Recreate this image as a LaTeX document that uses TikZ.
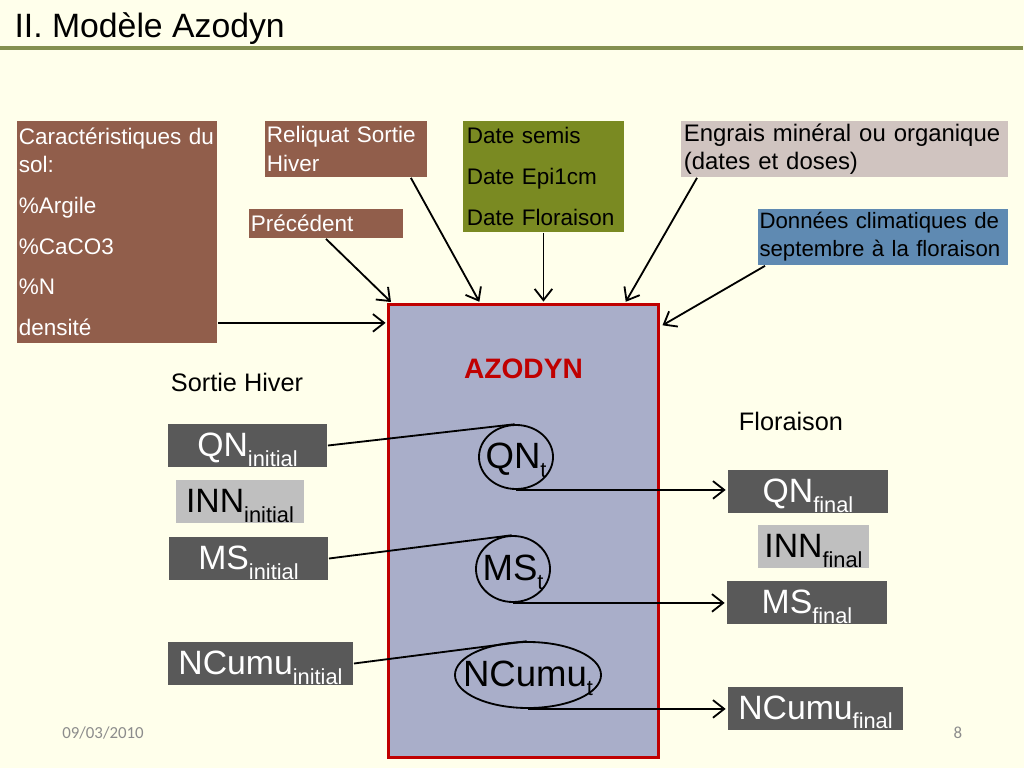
\documentclass[tikz,border=0pt]{standalone}
\usepackage{fontspec}
\setmainfont{Liberation Sans}
\newfontfamily\footfont{Carlito}
\usetikzlibrary{arrows.meta,positioning,shapes.geometric}

\definecolor{bgcream}{HTML}{FFFFEB}
\definecolor{titleline}{HTML}{84904F}
\definecolor{soilbrown}{HTML}{915E4B}
\definecolor{dateolive}{HTML}{7A8A22}
\definecolor{engraispink}{HTML}{D0C4C0}
\definecolor{climablue}{HTML}{5F8AB2}
\definecolor{modelfill}{HTML}{A9AEC9}
\definecolor{modelred}{HTML}{C00000}
\definecolor{vardark}{HTML}{595959}
\definecolor{varlight}{HTML}{BFBFBF}
\definecolor{footgrey}{HTML}{8C8C8C}

\newcommand{\lowsub}[1]{\raisebox{-7pt}{\fontsize{15.5}{16}\selectfont #1}}

\begin{document}
\begin{tikzpicture}[x=0.025cm,y=-0.025cm,>={Straight Barb[length=2.8mm,width=4.4mm]},
                    shorten >=1pt,line width=1.3pt,
                    in box/.style={rectangle,anchor=north west,align=left,inner xsep=0.05cm,
                                   inner ysep=0pt,font=\fontsize{16}{20}\selectfont},
                    var box/.style={rectangle,inner sep=0pt,minimum height=1.075cm,
                                    font=\fontsize{24}{28}\selectfont,text height=0.7cm,text depth=0.15cm},
                    dark var/.style={var box,fill=vardark,text=white},
                    light var/.style={var box,fill=varlight,text=black},
                    state node/.style={ellipse,draw,inner sep=0pt},
                    state text/.style={font=\fontsize{26}{30}\selectfont,text height=0.7cm,text depth=0.15cm,inner sep=0pt},
                    side text/.style={font=\fontsize{18}{22}\selectfont}]

  \fill[bgcream] (0,0) rectangle (1024,768);
  \useasboundingbox (0,0) rectangle (1024,768);

  \node[anchor=base west,font=\fontsize{24}{28}\selectfont] (title) at (9,38) {II. Modèle Azodyn};
  \draw[titleline,line width=2.2pt] (0,48) -- (1024,48);

  % inputs
  \node[in box,fill=soilbrown,text=white,minimum width=5cm,minimum height=5.55cm,text width=4.9cm] (sol) at (16,120)
    {Caractéristiques du\\sol:\\[9pt]\%Argile\\[9pt]\%CaCO3\\[9pt]\%N\\[9pt]densité};
  \node[in box,fill=soilbrown,text=white,minimum width=4.05cm,minimum height=1.4cm,text width=3.95cm] (reliquat) at (264,120)
    {Reliquat Sortie\\Hiver};
  \node[in box,fill=soilbrown,text=white,minimum width=3.85cm,minimum height=0.725cm,text width=3.75cm] (prec) at (248,208)
    {Précédent};
  \node[in box,fill=dateolive,minimum width=3.925cm,minimum height=2.775cm,text width=3.825cm,inner xsep=0.1cm] (dates) at (462,120)
    {Date semis\\[9pt]Date Epi1cm\\[9pt]Date Floraison};
  \node[in box,fill=engraispink,minimum width=8.175cm,minimum height=1.4cm,text width=8.025cm,inner xsep=0.075cm,
        font=\fontsize{17}{20}\selectfont] (engrais) at (680,120)
    {Engrais minéral ou organique\\(dates et doses)};
  \node[in box,fill=climablue,minimum width=6.25cm,minimum height=1.4cm,text width=6.17cm,inner xsep=0.04cm,
        font=\fontsize{15.8}{20}\selectfont] (climat) at (757,208)
    {Données climatiques de\\septembre à la floraison};

  % model
  \node[rectangle,draw=modelred,fill=modelfill,line width=2pt,anchor=north west,
        minimum width=6.75cm,minimum height=11.325cm] (azodyn) at (387,303) {};
  \node[font=\fontsize{20}{24}\selectfont\bfseries,text=modelred] (azlabel) [below=1.25cm of azodyn.north] {AZODYN};

  \coordinate (solout) at ([yshift=0.525cm]sol.south east);
  \draw[->] (solout) -- (solout -| azodyn.west);
  \draw[->] (prec.south) -- ([xshift=0.125cm]azodyn.north west);
  \draw[->] ([xshift=-0.425cm]reliquat.south east) -- ([xshift=2.325cm]azodyn.north west);
  \draw[->] (dates.south) -- (dates.south |- azodyn.north);
  \draw[->] ([xshift=0.425cm]engrais.south west) -- ([xshift=5.95cm]azodyn.north west);
  \draw[->] ([xshift=0.2cm]climat.south west) -- ([yshift=-0.575cm,xshift=1pt]azodyn.north east);

  % state variables
  \node[side text] (sortie) at (237,382) {Sortie Hiver};
  \node[dark var,minimum width=3.975cm] (QNi) at (247.5,445.5) {QN\lowsub{initial}};
  \node[light var,minimum width=3.2cm] (INNi) at (240,501.5) {INN\lowsub{initial}};
  \node[dark var,minimum width=3.975cm] (MSi) at (248.5,558.5) {MS\lowsub{initial}};
  \node[dark var,minimum width=4.625cm] (NCi) at (260.5,663.5) {NCumu\lowsub{initial}};

  \node[side text] (floraison) at (791,421) {Floraison};
  \node[dark var,minimum width=4cm] (QNf) at (808,491.5) {QN\lowsub{final}};
  \node[light var,minimum width=2.775cm] (INNf) at (813.5,546.5) {INN\lowsub{final}};
  \node[dark var,minimum width=4cm] (MSf) at (807,602.5) {MS\lowsub{final}};
  \node[dark var,minimum width=4.375cm] (NCf) at (815.5,708) {NCumu\lowsub{final}};

  \node[state node,minimum width=1.85cm,minimum height=1.6cm,
        label={[state text]center:QN\lowsub{t}}] (QNt) at (516,457) {};
  \node[state node,minimum width=1.85cm,minimum height=1.65cm,
        label={[state text]center:MS\lowsub{t}}] (MSt) at (513,569) {};
  \node[state node,minimum width=3.65cm,minimum height=1.65cm,
        label={[state text]center:NCumu\lowsub{t}}] (NCt) at (528,675) {};

  \draw (QNi.east) -- (QNt.north);
  \draw (MSi.east) -- (MSt.north);
  \draw (NCi.east) -- (NCt.north);
  \draw[->] (QNt.south) -- (QNt.south -| QNf.west);
  \draw[->] (MSt.south) -- (MSt.south -| MSf.west);
  \draw[->] (NCt.south) -- (NCt.south -| NCf.west);

  % footer
  \node[font=\footfont\fontsize{12}{14}\selectfont,text=footgrey] (date) at (103,733) {09/03/2010};
  \node[font=\footfont\fontsize{12}{14}\selectfont,text=footgrey] (page) at (958,733) {8};
\end{tikzpicture}
\end{document}
